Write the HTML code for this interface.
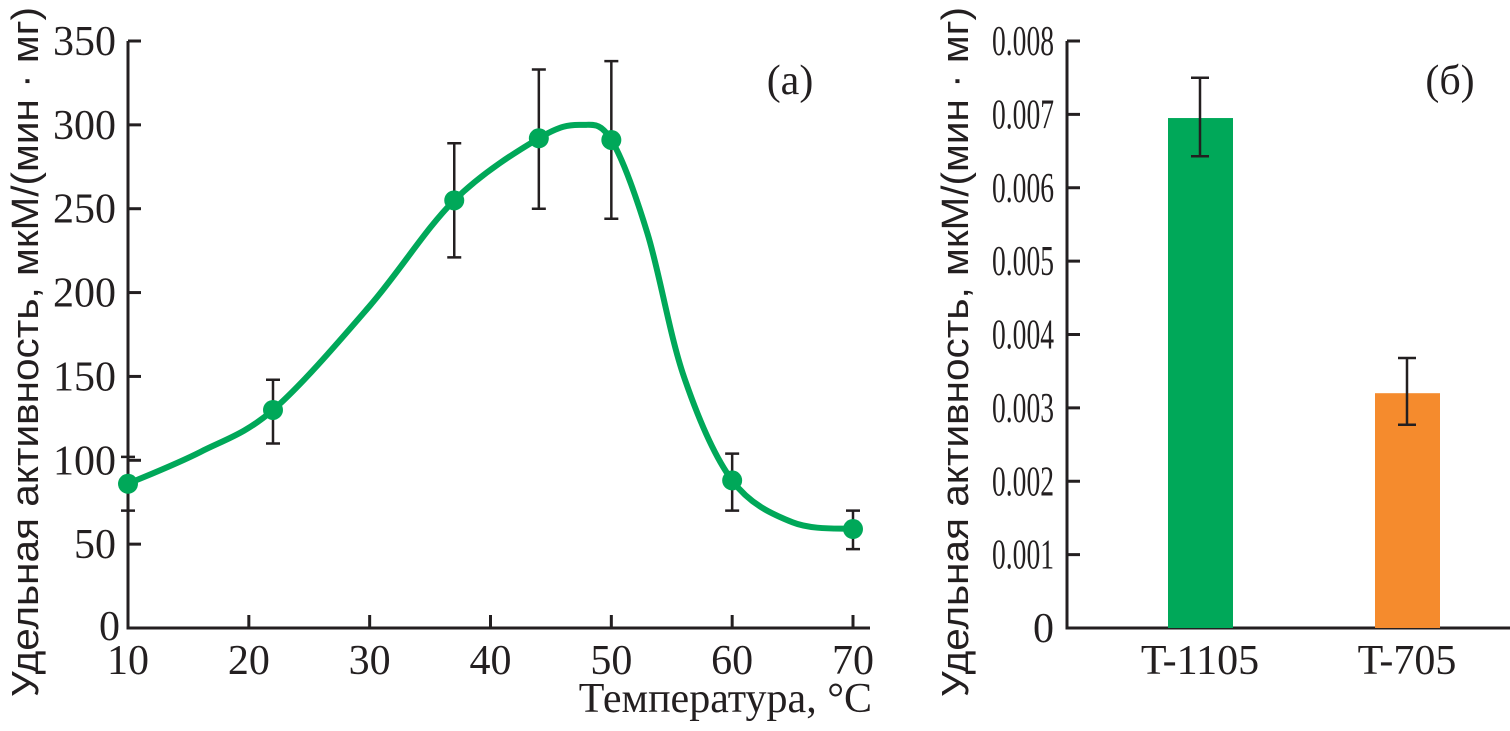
<!DOCTYPE html>
<html><head><meta charset="utf-8"><style>
body{margin:0;background:#fff}
svg text{font-family:"Liberation Serif",serif;fill:#231f20}
svg text.sans{font-family:"Liberation Sans",sans-serif}
</style></head><body>
<svg width="1510" height="726" viewBox="0 0 1510 726" xmlns="http://www.w3.org/2000/svg">
<g id="left"></g>
<g id="right"></g>
</svg>
<script>
const tempX=[10,22,37,44,50,60,70];
const tempY=[86,130,255,292,291,88,59];
const tempLo=[70,110,221,250,244,70,47];
const tempHi=[102,148,289,333,338,104,70];
const curveX=[10,16,22,30,37,44,47.5,50,53,56,60,65,70];
const curveY=[86,105,130,192,255,292,300,291,235,150,88,63,59];
const leftYTicks=[0,50,100,150,200,250,300,350];
const leftXTicks=[10,20,30,40,50,60,70];
const strains=["T-1105","T-705"];
const strainVals=[0.00695,0.0032];
const strainLo=[0.00643,0.00277];
const strainHi=[0.0075,0.00368];
const strainColors=["#00a859","#f58b2d"];
const rightYTicks=[0,0.001,0.002,0.003,0.004,0.005,0.006,0.007,0.008];

const NS="http://www.w3.org/2000/svg";
function mk(p,t,a){const e=document.createElementNS(NS,t);for(const k in a)e.setAttribute(k,a[k]);p.appendChild(e);return e;}
const L=document.getElementById('left'),R=document.getElementById('right');
const x1=v=>128+(v-10)*(853-128)/60, y1=v=>628-v*(628-41)/350;
const y2=v=>628-v*(628-41)/0.008;
const FS=42;

let e=mk(L,'path',{d:'M128 41V628H870',stroke:'#231f20','stroke-width':3,fill:'none'});

leftYTicks.forEach(v=>{
 let t=mk(L,'line',{x1:128,x2:141,y1:y1(v),y2:y1(v),stroke:'#231f20','stroke-width':3});
 
 let l=mk(L,'text',{x:v==0?120:116,y:y1(v)+(v==0?12:14),'text-anchor':'end','font-size':FS});l.textContent=v;
 
});
leftXTicks.forEach(v=>{
 if(v>10){let t=mk(L,'line',{x1:x1(v),x2:x1(v),y1:628,y2:615,stroke:'#231f20','stroke-width':3});
 }
 let l=mk(L,'text',{x:x1(v),y:674,'text-anchor':'middle','font-size':FS});l.textContent=v;
 
});
const P=curveX.map((v,i)=>[x1(v),y1(curveY[i])]);
let d='M'+P[0][0]+' '+P[0][1];
for(let i=0;i<P.length-1;i++){const p0=P[i-1]||P[i],p1=P[i],p2=P[i+1],p3=P[i+2]||P[i+1];
 d+=` C${p1[0]+(p2[0]-p0[0])/6} ${p1[1]+(p2[1]-p0[1])/6} ${p2[0]-(p3[0]-p1[0])/6} ${p2[1]-(p3[1]-p1[1])/6} ${p2[0]} ${p2[1]}`;}
e=mk(L,'path',{d:d,stroke:'#00a859','stroke-width':6,fill:'none'});

tempX.forEach((v,i)=>{
 const x=x1(v);
 let g=mk(L,'path',{d:`M${x} ${y1(tempLo[i])}V${y1(tempHi[i])}M${x-7} ${y1(tempLo[i])}h14M${x-7} ${y1(tempHi[i])}h14`,stroke:'#231f20','stroke-width':2.5,fill:'none'});
 
 let c=mk(L,'circle',{cx:x,cy:y1(tempY[i]),r:10,fill:'#00a859'});
 
});
e=mk(L,'text',{x:790,y:94,'text-anchor':'middle','font-size':FS});e.textContent='(а)';

e=mk(L,'text',{x:872,y:712,'text-anchor':'end','font-size':FS});e.textContent='Температура, °C';

e=mk(L,'text',{x:0,y:0,'text-anchor':'middle','font-size':38,'class':'sans',textLength:690,lengthAdjust:'spacingAndGlyphs',transform:'translate(38,352) rotate(-90)'});e.textContent='Удельная активность, мкМ/(мин · мг)';


e=mk(R,'path',{d:'M1067 41V628H1510',stroke:'#231f20','stroke-width':3,fill:'none'});

rightYTicks.forEach(v=>{
 let t=mk(R,'line',{x1:1067,x2:1080,y1:y2(v),y2:y2(v),stroke:'#231f20','stroke-width':3});
 
 const a={x:1054,y:y2(v)+14,'text-anchor':'end','font-size':FS};
 if(v!=0){a.textLength=62;a.lengthAdjust='spacingAndGlyphs';}
 let l=mk(R,'text',a);l.textContent=v==0?'0':v.toFixed(3);
 
});
const cx=[1200,1407];
strains.forEach((s,i)=>{
 let b=mk(R,'rect',{x:cx[i]-32,y:y2(strainVals[i]),width:65,height:628-y2(strainVals[i]),fill:strainColors[i]});
 
 let g=mk(R,'path',{d:`M${cx[i]} ${y2(strainLo[i])}V${y2(strainHi[i])}M${cx[i]-9} ${y2(strainLo[i])}h18M${cx[i]-9} ${y2(strainHi[i])}h18`,stroke:'#231f20','stroke-width':2.5,fill:'none'});
 
 let l=mk(R,'text',{x:cx[i],y:674,'text-anchor':'middle','font-size':FS});l.textContent=s;
 
});
e=mk(R,'text',{x:1450,y:94,'text-anchor':'middle','font-size':FS});e.textContent='(б)';

e=mk(R,'text',{x:0,y:0,'text-anchor':'middle','font-size':38,'class':'sans',textLength:690,lengthAdjust:'spacingAndGlyphs',transform:'translate(968,352) rotate(-90)'});e.textContent='Удельная активность, мкМ/(мин · мг)';

</script>
</body></html>
